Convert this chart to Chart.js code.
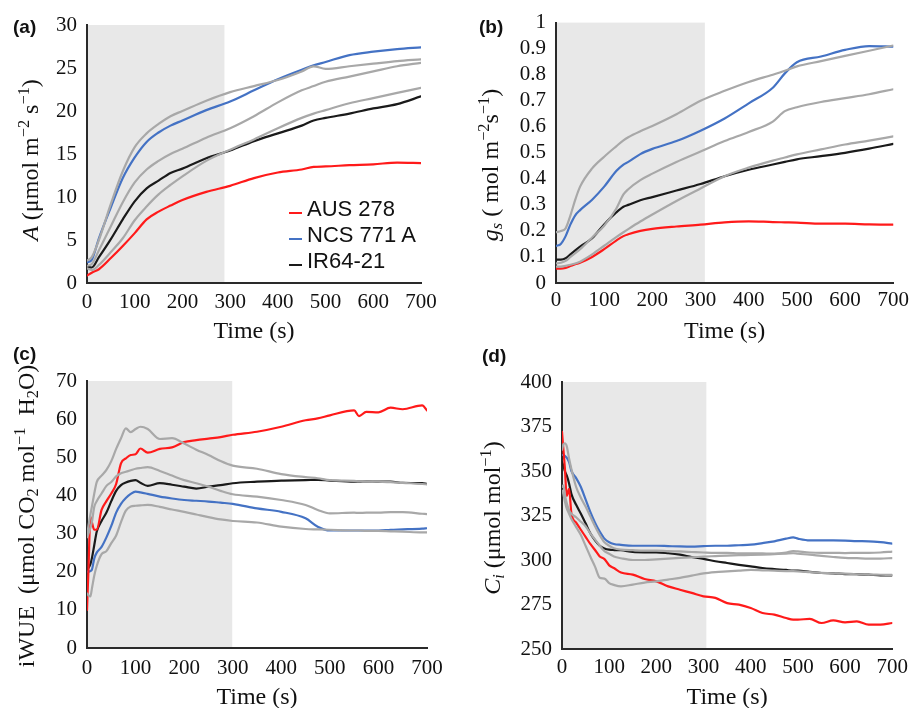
<!DOCTYPE html>
<html><head><meta charset="utf-8">
<script src="https://cdn.jsdelivr.net/npm/chart.js@4/dist/chart.umd.min.js"></script>
<style>
html,body{margin:0;padding:0;background:#fff;}
#root{position:relative;width:914px;height:708px;overflow:hidden;}
.panel{position:absolute;}
.plabel{position:absolute;font:bold 19px 'Liberation Sans',Arial,sans-serif;color:#111;line-height:20px;}
.ytitle{position:absolute;transform:translate(-50%,-50%) rotate(-90deg);white-space:nowrap;font:24px 'Liberation Serif',serif;color:#111;line-height:28px;}
.ytitle sup{font-size:0.68em;vertical-align:0.55em;line-height:0;}
.ytitle sub{font-size:0.68em;vertical-align:-0.25em;line-height:0;}
.leg{position:absolute;font:22px 'Liberation Sans',Arial,sans-serif;color:#111;line-height:26px;white-space:nowrap;}
.dash{position:absolute;height:2px;width:13px;}
</style></head>
<body><div id="root"></div>
<script>
// ---------------- data ----------------
const seriesNames = ['AUS 278', 'NCS 771 A', 'IR64-21'];
const seriesColors = ['#ff1a1a', '#4472c4', '#1a1a1a'];
const grayColor = '#a8a8a8';
const xTicks = [0, 100, 200, 300, 400, 500, 600, 700];

// (a) A
const timeA = [0,10,25,50,75,100,125,150,175,200,250,300,350,400,450,475,500,550,600,650,700];
const aRed   = [0.85,1.2,1.6,2.9,4.3,5.8,7.4,8.3,9.0,9.65,10.6,11.3,12.2,12.85,13.2,13.5,13.55,13.7,13.8,14.0,13.95];
const aBlue  = [2.4,2.7,5.2,8.8,12.2,14.6,16.4,17.5,18.3,18.9,20.1,21.1,22.4,23.7,24.8,25.3,25.7,26.5,26.9,27.2,27.4];
const aBlack = [1.9,1.8,3.0,5.1,7.4,9.5,11.0,11.9,12.8,13.3,14.5,15.4,16.5,17.4,18.3,18.9,19.2,19.7,20.3,20.8,21.7];
const aGray1 = [2.6,3.0,5.0,9.2,13.0,15.8,17.4,18.5,19.4,20.0,21.2,22.2,22.9,23.6,24.6,25.2,24.9,25.2,25.5,25.8,26.0];
const aGray2 = [2.0,2.2,3.8,6.6,9.4,11.7,13.2,14.2,15.0,15.6,16.9,18.0,19.4,21.0,22.4,22.9,23.4,24.0,24.6,25.2,25.6];
const aGray3 = [1.7,1.5,2.1,3.6,5.2,7.3,8.9,10.3,11.4,12.4,14.2,15.5,16.7,18.0,19.2,19.7,20.1,20.9,21.5,22.1,22.7];
const yTicksA = [0,5,10,15,20,25,30];

// (b) gs
const timeB = [0,10,20,30,40,50,75,100,125,140,150,175,200,250,300,350,400,450,475,500,550,600,650,700];
const bRed   = [0.055,0.055,0.058,0.065,0.072,0.078,0.100,0.130,0.163,0.180,0.187,0.200,0.208,0.217,0.224,0.233,0.237,0.234,0.233,0.232,0.228,0.228,0.225,0.224];
const bBlue  = [0.142,0.150,0.180,0.225,0.260,0.280,0.320,0.370,0.430,0.455,0.465,0.495,0.515,0.545,0.585,0.632,0.690,0.750,0.805,0.848,0.870,0.895,0.910,0.908];
const bBlack = [0.090,0.090,0.095,0.110,0.125,0.140,0.172,0.225,0.271,0.293,0.300,0.318,0.330,0.355,0.380,0.410,0.435,0.455,0.465,0.475,0.487,0.500,0.516,0.534];
const bGray1 = [0.195,0.200,0.210,0.260,0.320,0.370,0.440,0.485,0.525,0.548,0.560,0.583,0.603,0.648,0.700,0.738,0.772,0.800,0.815,0.832,0.852,0.872,0.892,0.912];
const bGray2 = [0.075,0.078,0.085,0.100,0.115,0.130,0.175,0.220,0.285,0.340,0.360,0.395,0.420,0.465,0.505,0.545,0.580,0.620,0.660,0.675,0.695,0.710,0.725,0.744];
const bGray3 = [0.063,0.063,0.066,0.070,0.075,0.082,0.110,0.143,0.176,0.195,0.207,0.236,0.263,0.315,0.363,0.410,0.443,0.470,0.482,0.494,0.513,0.532,0.547,0.563];
const yTicksB = [0,0.1,0.2,0.3,0.4,0.5,0.6,0.7,0.8,0.9,1];

// (c) iWUE
const timeC = [0,3,7,10,15,20,30,40,50,60,70,80,90,100,110,125,150,175,200,225,250,275,300,350,400,450,475,500,550,560,575,600,625,650,690,700];
const cRed   = [10,20.5,34.4,33,31,31,36.2,38.5,40.5,43,48.4,49.7,50.6,50.8,52.3,51.2,52.2,52.6,54.0,54.5,54.9,55.3,55.9,56.7,58.0,59.7,60.2,61.0,62.3,60.8,61.9,61.8,63.0,62.6,63.6,62.3];
const cBlue  = [20,20,20.2,20.5,23.5,25,26.5,29,32,35.5,37.8,39.3,40.4,41.0,40.8,40.4,39.7,39.2,38.8,38.6,38.4,38.1,37.8,36.6,35.7,34.0,31.8,30.8,30.8,30.8,30.8,30.8,31.0,31.1,31.3,31.4];
const cBlack = [20.5,21,22,23.5,27,30.5,33.3,35.5,38.5,41.2,42.7,43.4,43.8,44.0,43.3,42.5,43.2,42.8,42.3,41.8,42.3,42.7,43.2,43.6,43.9,44.0,44.1,43.9,43.6,43.6,43.7,43.6,43.6,43.3,43.2,43.0];
const cGray1 = [29.5,32,35,37,40.5,43.5,45.2,46.7,49,52.2,55,57.6,56.6,57.4,58,57.4,54.8,55,53.6,52,50.6,49,47.8,47,45.6,44.8,44.5,44.0,43.8,43.7,43.7,43.6,43.5,43.3,43.0,42.9];
const cGray2 = [29,30,31.5,33,37,38.5,40.5,42.5,43.5,45,45.8,46.2,46.6,47,47.2,47.4,46.4,45.2,44,43.2,42.3,41.2,40.3,39.7,38.8,37.5,36.2,35.3,35.5,35.4,35.5,35.5,35.6,35.6,35.2,35.1];
const cGray3 = [14.3,13.8,13.5,15.5,19,21.5,24.6,25.4,27.5,29.5,33,36,37.1,37.3,37.4,37.5,37,36.3,35.7,35,34.3,33.7,33.3,32.9,31.8,31.2,31.1,31.0,30.8,30.8,30.7,30.7,30.6,30.5,30.3,30.3];
const yTicksC = [0,10,20,30,40,50,60,70];

// (d) Ci
const timeD = [0,3,6,10,15,20,30,40,50,60,70,80,90,100,110,125,150,175,200,225,250,275,300,325,350,375,400,425,450,475,490,500,525,550,575,600,625,650,675,700];
const dRed   = [372,362,352,336,340,326,321,317,313,309,305.6,302,300.5,297,295.5,293,291.8,289.3,288,285.2,283.3,281.5,279.6,278.7,275.8,274.9,273,270.2,269.3,267.4,266.5,266.5,266.9,264.6,266.1,265,265.5,263.7,263.7,264.6];
const dBlue  = [359,359,358.5,357.5,355,350,346,341,334,327,321,316,312,310,309,308.5,308,308,308,307.8,307.6,307.5,307.8,308,308,308.3,308.6,309.5,310.5,312,312.7,312,311,311,311,310.9,310.6,310.5,310,309.2];
const dBlack = [355,353,350,347.5,343,337,331,326,320.6,315,311,308,306.5,305.8,305.6,305.5,304.5,304.3,304.3,303.8,303,301.7,300.6,299.3,298.3,297.3,296.4,295.5,294.9,294.4,294,294,293.3,292.7,292.5,292.1,292,291.8,291.3,291.4];
const dGray1 = [362,365,365.6,364,357,351,341,335,330,324.5,319,314,310,308,306.6,305.8,305.5,305.3,305.3,305,304.8,304.5,304.2,304,304,303.8,303.8,303.7,303.6,304.2,305,304.8,304.2,304,304,303.9,304,304,304.2,304.7];
const dGray2 = [341,342,337,332,328,326,324,321.5,319,315,311.5,308,305,303.5,302,301,300,300,300.4,300.8,301.2,301.5,301.9,302.2,302.5,302.7,302.8,303,303.3,303.6,303.8,303.5,303,302.3,301.7,301.2,301,300.8,300.8,301.1];
const dGray3 = [339,337,333,329,326,323,318.5,314,308,302,296.3,290,289.5,287,286,285.2,286.2,287.3,288,289,290,291.2,292.5,293.2,293.6,294,294.4,294.2,294,293.8,293.7,293.6,293.2,292.8,292.5,292.3,292,291.8,291.7,291.6];
const yTicksD = [250,275,300,325,350,375,400];

// ---------------- layout ----------------
const panels = [
  {label:'(a)', lx:13, ly:17, box:{left:0,top:0,w:457,h:350}, area:{l:87,r:421,t:25,b:283},
   time:timeA, grays:[aGray1,aGray2,aGray3], cols:[aRed,aBlue,aBlack], yTicks:yTicksA, shadeEnd:288,
   tickPad:7, titleY:332, ytitle:'<i>A</i> (μmol m<sup>−2</sup> s<sup>−1</sup>)', ytx:30, yty:160},
  {label:'(b)', lx:479, ly:17, box:{left:457,top:0,w:457,h:350}, area:{l:556,r:896,t:20,b:283},
   time:timeB, grays:[bGray1,bGray2,bGray3], cols:[bRed,bBlue,bBlack], yTicks:yTicksB, shadeEnd:309,
   tickPad:5, titleY:332, ytitle:'<i>g<sub>s</sub></i> ( mol m<sup>−2</sup>s<sup>−1</sup>)', ytx:490, yty:165},
  {label:'(c)', lx:13, ly:344, box:{left:0,top:350,w:457,h:362}, area:{l:87,r:427,t:381,b:648},
   time:timeC, grays:[cGray1,cGray2,cGray3], cols:[cRed,cBlue,cBlack], yTicks:yTicksC, shadeEnd:299,
   tickPad:8, titleY:698, ytitle:'iWUE&nbsp; (μmol CO<sub>2</sub> mol<sup>−1</sup>&nbsp; H<sub>2</sub>O)', ytx:26, yty:516},
  {label:'(d)', lx:482, ly:346, box:{left:457,top:350,w:457,h:362}, area:{l:562,r:896,t:382,b:649},
   time:timeD, grays:[dGray1,dGray2,dGray3], cols:[dRed,dBlue,dBlack], yTicks:yTicksD, shadeEnd:306,
   tickPad:6, titleY:698, ytitle:'<i>C<sub>i</sub></i> (μmol mol<sup>−1</sup>)', ytx:492, yty:518}
];

const shadePlugin = {
  id: 'shade',
  beforeDraw(chart, args, opts) {
    const {ctx, chartArea: a, scales: {x}} = chart;
    const x0 = x.getPixelForValue(0), x1 = x.getPixelForValue(opts.end);
    ctx.save();
    ctx.fillStyle = opts.color;
    ctx.fillRect(x0, a.top, x1 - x0, a.bottom - a.top);
    ctx.restore();
  }
};

const root = document.getElementById('root');
const Y_W = 50;
const TITLE_SIZE = 24;

panels.forEach(p => {
  const wrap = document.createElement('div');
  wrap.className = 'panel';
  Object.assign(wrap.style, {left: p.box.left + 'px', top: p.box.top + 'px', width: p.box.w + 'px', height: p.box.h + 'px'});
  const cv = document.createElement('canvas');
  cv.width = p.box.w; cv.height = p.box.h;
  cv.style.width = p.box.w + 'px'; cv.style.height = p.box.h + 'px';
  wrap.appendChild(cv);
  root.appendChild(wrap);

  const padLeft = p.area.l - p.box.left - Y_W;
  const padRight = p.box.left + p.box.w - p.area.r;
  const padTop = p.area.t - p.box.top;
  const xH = p.titleY - p.area.b + TITLE_SIZE / 2;
  const padBottom = Math.max(0, p.box.top + p.box.h - p.area.b - xH);

  const mk = (vals) => p.time.map((t, i) => ({x: t, y: vals[i]}));
  const datasets = [];
  p.grays.forEach(g => datasets.push({data: mk(g), borderColor: grayColor, borderWidth: 2.2}));
  p.cols.forEach((c, i) => datasets.push({label: seriesNames[i], data: mk(c), borderColor: seriesColors[i], borderWidth: 2.2}));

  new Chart(cv, {
    type: 'line',
    data: {datasets},
    plugins: [shadePlugin],
    options: {
      responsive: false, animation: false, events: [],
      layout: {padding: {left: padLeft, right: padRight, top: padTop, bottom: padBottom}},
      elements: {point: {radius: 0}, line: {tension: 0.25, cubicInterpolationMode: 'monotone', borderCapStyle: 'round', borderJoinStyle: 'round'}},
      plugins: {legend: {display: false}, tooltip: {enabled: false}, shade: {end: p.shadeEnd, color: '#e8e8e8'}},
      scales: {
        x: {
          type: 'linear', min: 0, max: 700,
          afterBuildTicks: s => { s.ticks = xTicks.map(v => ({value: v})); },
          afterFit: s => { s.height = xH; },
          grid: {display: false, drawTicks: false},
          border: {display: true, color: '#2a2a2a', width: 2},
          ticks: {autoSkip: false, padding: p.tickPad, color: '#111', font: {family: "'Liberation Serif', serif", size: 21}, maxRotation: 0, callback: v => String(v)},
          title: {display: true, text: 'Time (s)', color: '#111', padding: 0, font: {family: "'Liberation Serif', serif", size: TITLE_SIZE, lineHeight: 1}}
        },
        y: {
          type: 'linear', min: p.yTicks[0], max: p.yTicks[p.yTicks.length - 1],
          afterBuildTicks: s => { s.ticks = p.yTicks.map(v => ({value: v})); },
          afterFit: s => { s.width = Y_W; },
          grid: {display: false, drawTicks: false},
          border: {display: true, color: '#2a2a2a', width: 2},
          ticks: {autoSkip: false, padding: 10, color: '#111', font: {family: "'Liberation Serif', serif", size: 21}, callback: v => String(+v.toFixed(2))}
        }
      }
    }
  });

  const lab = document.createElement('div');
  lab.className = 'plabel';
  lab.style.left = p.lx + 'px'; lab.style.top = p.ly + 'px';
  lab.textContent = p.label;
  root.appendChild(lab);

  const yt = document.createElement('div');
  yt.className = 'ytitle';
  yt.style.left = p.ytx + 'px'; yt.style.top = p.yty + 'px';
  yt.innerHTML = p.ytitle;
  root.appendChild(yt);
});

// legend inside panel (a)
const legendY = [209, 235, 261];
seriesNames.forEach((n, i) => {
  const d = document.createElement('div');
  d.className = 'dash';
  d.style.left = '289px'; d.style.top = (legendY[i] + 3) + 'px';
  d.style.background = seriesColors[i];
  root.appendChild(d);
  const t = document.createElement('div');
  t.className = 'leg';
  t.style.left = '307px'; t.style.top = (legendY[i] - 13) + 'px';
  t.textContent = n;
  root.appendChild(t);
});
</script>
</body></html>
